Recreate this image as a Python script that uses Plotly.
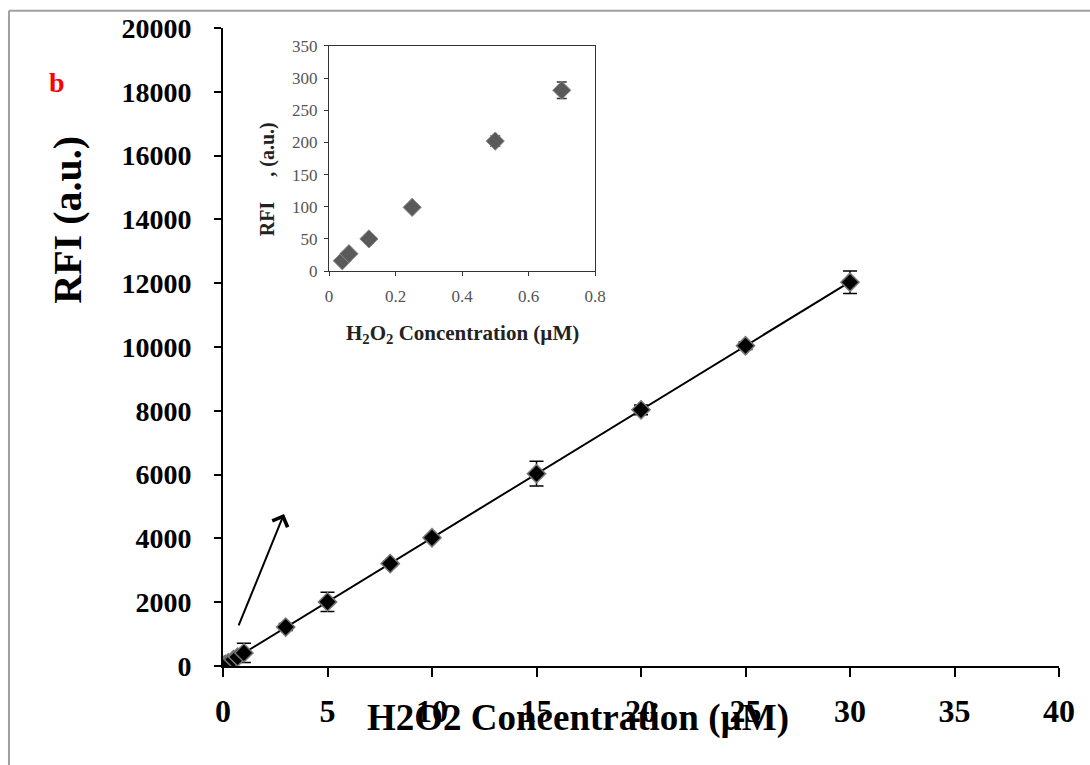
import numpy as np
import plotly.graph_objects as go

# ---- data ----
conc_main = [0.04, 0.06, 0.12, 0.25, 0.5, 0.7, 1, 3, 5, 8, 10, 15, 20, 25, 30]
rfi_main = [16, 27, 50, 99, 202, 281, 410, 1220, 2010, 3210, 4020, 6030, 8030, 10040, 12030]
err_main = [5, 5, 5, 8, 9, 13, 300, 110, 300, 90, 60, 390, 150, 120, 350]

conc_inset = [0.04, 0.06, 0.12, 0.25, 0.5, 0.7]
rfi_inset = [16, 27, 50, 99, 202, 281]
err_inset = [3, 3, 3, 4, 8, 13]

x_ticks_main = [0, 5, 10, 15, 20, 25, 30, 35, 40]
y_ticks_main = [0, 2000, 4000, 6000, 8000, 10000, 12000, 14000, 16000, 18000, 20000]
x_ticks_inset = [0, 0.2, 0.4, 0.6, 0.8]
x_ticklabels_inset = ["0", "0.2", "0.4", "0.6", "0.8"]
y_ticks_inset = [0, 50, 100, 150, 200, 250, 300, 350]

# linear fit for trend line
slope, intercept = np.polyfit(conc_main, rfi_main, 1)
fit_x = [0, 30]
fit_y = [intercept + slope * v for v in fit_x]

SERIF = "Liberation Serif"

fig = go.Figure()

fig.add_trace(go.Scatter(
    x=fit_x, y=fit_y, mode="lines",
    line=dict(color="black", width=2), showlegend=False, hoverinfo="skip"))

fig.add_trace(go.Scatter(
    x=conc_main, y=rfi_main, mode="markers",
    marker=dict(symbol="diamond", size=14, color="black",
                line=dict(color="#777777", width=1.5)),
    error_y=dict(type="data", array=err_main, color="black", thickness=1.5, width=7),
    showlegend=False))

fig.add_trace(go.Scatter(
    x=conc_inset, y=rfi_inset, mode="markers", xaxis="x2", yaxis="y2",
    marker=dict(symbol="diamond", size=14, color="#5a5a5a",
                line=dict(color="#8a8a8a", width=1)),
    error_y=dict(type="data", array=err_inset, color="#333333", thickness=1.5, width=5),
    showlegend=False))

fig.update_layout(
    width=1090, height=765,
    margin=dict(l=223, r=31, t=28, b=99),
    paper_bgcolor="white", plot_bgcolor="white",
    font=dict(family=SERIF, color="black"),
    xaxis=dict(
        range=[0, 40], tickvals=x_ticks_main, showgrid=False, zeroline=False,
        showline=True, linecolor="black", linewidth=2,
        ticks="outside", ticklen=9, tickwidth=2, tickcolor="black",
        tickfont=dict(family=SERIF, size=32, color="black", weight="bold"),
        ticklabelstandoff=7,
    ),
    yaxis=dict(
        range=[0, 20000], tickvals=y_ticks_main, tickformat="d",
        showgrid=False, zeroline=False,
        showline=True, linecolor="black", linewidth=2,
        ticks="outside", ticklen=7, tickwidth=2, tickcolor="black",
        tickfont=dict(family=SERIF, size=28, color="black", weight="bold"),
        ticklabelstandoff=17,
    ),
    xaxis2=dict(
        domain=[0.1268, 0.445], anchor="y2", range=[0, 0.8],
        tickvals=x_ticks_inset, ticktext=x_ticklabels_inset,
        showgrid=False, zeroline=False, showline=True, mirror=True,
        linecolor="#333333", linewidth=1, ticks="outside", ticklen=4,
        tickcolor="#333333", ticklabelstandoff=6,
        tickfont=dict(family=SERIF, size=17, color="#555555"),
    ),
    yaxis2=dict(
        domain=[0.619, 0.972], anchor="x2", range=[0, 350], tickvals=y_ticks_inset,
        showgrid=False, zeroline=False, showline=True, mirror=True,
        linecolor="#333333", linewidth=1, ticks="outside", ticklen=4,
        tickcolor="#333333", ticklabelstandoff=3,
        tickfont=dict(family=SERIF, size=17, color="#555555"),
    ),
)

# white background for inset area
fig.add_shape(type="rect", xref="x2 domain", yref="y2 domain", x0=0, x1=1, y0=0, y1=1,
              fillcolor="white", line=dict(width=0), layer="below")

# outer frame (left and top edges visible)
fig.add_shape(type="line", xref="paper", yref="paper",
              x0=-0.256, x1=-0.256, y0=-0.17, y1=1.027,
              line=dict(color="#a0a0a0", width=2))
fig.add_shape(type="line", xref="paper", yref="paper",
              x0=-0.256, x1=1.05, y0=1.027, y1=1.027,
              line=dict(color="#a0a0a0", width=2))

annotations = [
    dict(text="H2O2 Concentration (µM)", xref="paper", yref="paper", x=0.4246, y=-0.0815,
         xanchor="center", yanchor="middle", showarrow=False,
         font=dict(family=SERIF, size=37, color="black", weight="bold")),
    dict(text="RFI (a.u.)", xref="paper", yref="paper", x=-0.187, y=0.699, textangle=-90,
         xanchor="center", yanchor="middle", showarrow=False,
         font=dict(family=SERIF, size=40, color="black", weight="bold")),
    dict(text="b", xref="paper", yref="paper", x=-0.199, y=0.914,
         xanchor="center", yanchor="middle", showarrow=False,
         font=dict(family=SERIF, size=28, color="red", weight="bold")),
    dict(text="H<sub>2</sub>O<sub>2</sub> Concentration (µM)", xref="paper", yref="paper",
         x=0.287, y=0.521, xanchor="center", yanchor="middle", showarrow=False,
         font=dict(family=SERIF, size=21, color="#222222", weight="bold")),
    dict(text="RFI\u00a0\u00a0\u00a0\u00a0\u00a0, (a.u.)", xref="paper", yref="paper",
         x=0.0526, y=0.763, textangle=-90, xanchor="center", yanchor="middle",
         showarrow=False,
         font=dict(family=SERIF, size=20, color="#222222", weight="bold")),
    dict(x=2.92, y=4765, ax=0.72, ay=1223, xref="x", yref="y", axref="x", ayref="y",
         showarrow=True, arrowhead=4, arrowsize=1.6, arrowwidth=2, arrowcolor="black", text=""),
]
fig.update_layout(annotations=annotations)

fig.write_html("out.html")
